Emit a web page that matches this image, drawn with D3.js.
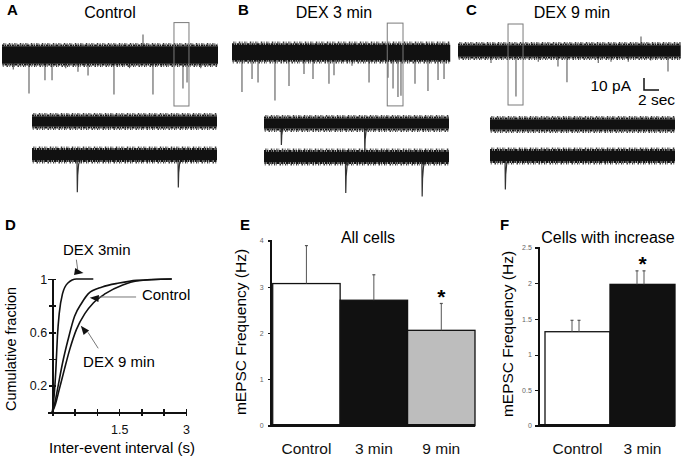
<!DOCTYPE html>
<html lang="en">
<head>
<meta charset="UTF-8">
<title>mEPSC traces and frequency - D3.js</title>
<script src="https://d3js.org/d3.v7.min.js"></script>
<style>
  body { margin: 0; background: #fff; }
  svg { display: block; font-family: Arial, "Liberation Sans", sans-serif; }
  .letter { font-weight: bold; font-size: 15px; }
  .title { font-size: 16px; }
  .axis path, .axis line { stroke: #111; stroke-width: 1.5; shape-rendering: crispEdges; }
  .small-ticks text { font-size: 7px; fill: #666; }
  .small-ticks line { stroke-width: 1; }
</style>
</head>
<body>
<svg width="681" height="460"></svg>
<script>
// ---- traces (time in s, amplitude in pA) ----
const traceTitles = ["Control", "DEX 3 min", "DEX 9 min"];
const overviewDur = [28.8, 29.1, 29.7];
const overviewEvents = [
  [[1.5, -12], [3.6, -32], [5.73, -21], [6.67, -21], [8.5, -11], [10.13, -14], [11.47, -17],
   [14.93, -33], [17.0, -11], [18.8, 17], [20.13, -33], [24.13, -28], [24.67, -23], [26.5, -11]],
  [[1.33, -33], [2.67, -22], [3.47, -25], [5.73, -40], [7.6, -28], [9.6, -18], [10.8, -22],
   [12.93, -26], [13.6, -19], [16.0, -11], [18.27, -25], [20.8, -21], [21.47, -30], [22.13, -37],
   [22.53, -36], [24.4, -26], [26.13, -32], [27.47, -23], [28.27, -22]],
  [[4.4, -10], [7.73, -38], [10.7, -9], [13.33, -13], [14.53, -26], [18.7, -10], [20.4, -9],
   [22.7, -9], [24.4, 12], [25.7, -8], [28.0, -17]]
];
// zoom box on each overview: [t start, t end, top pA, bottom pA]
const overviewBoxes = [[22.93, 24.93, 27, -42.5], [20.7, 22.8, 24.5, -44.5], [6.67, 8.67, 22.5, -45]];
// expanded rows (1 s each)
const zoomEvents = [
  [[], [[0.243, -31], [0.789, -27]]],
  [[[0.092, -18], [0.543, -24]], [[0.44, -30], [0.853, -33]]],
  [[], [[0.081, -28]]]
];

// ---- cumulative distributions (interval s, fraction) ----
const cumDex3 = [[0, 0], [0.04, 0.12], [0.08, 0.32], [0.115, 0.57], [0.155, 0.74], [0.23, 0.89],
  [0.35, 0.97], [0.54, 1.0], [0.92, 1.0]];
const cumControl = [[0, 0], [0.05, 0.06], [0.115, 0.17], [0.23, 0.37], [0.35, 0.54], [0.5, 0.72],
  [0.66, 0.82], [0.81, 0.89], [1.12, 0.94], [1.5, 0.97], [1.89, 0.99], [2.68, 1.0]];
const cumDex9 = [[0, 0], [0.07, 0.06], [0.155, 0.17], [0.27, 0.32], [0.39, 0.47], [0.54, 0.62],
  [0.73, 0.74], [0.92, 0.82], [1.19, 0.89], [1.58, 0.955], [1.89, 0.985], [2.68, 1.0]];
const cumTicksX = [0.5, 1, 1.5, 2, 2.5, 3];
const cumLabelsX = [1.5, 3];
const cumTicksY = [0.2, 0.4, 0.6, 0.8, 1];
const cumLabelsY = [0.2, 0.6, 1];

// ---- frequencies (Hz) ----
const allCats = ["Control", "3 min", "9 min"];
const allMean = [3.07, 2.71, 2.06];
const allSem = [0.82, 0.55, 0.58];
const allTicks = [0, 1, 2, 3, 4];
const incCats = ["Control", "3 min"];
const incMean = [1.32, 1.985];
const incSem = [0.16, 0.19];
const incTicks = [0, 0.5, 1, 1.5, 2, 2.5];

const svg = d3.select("svg");

// panel letters
[["A", 7, 15], ["B", 238, 15], ["C", 466, 15], ["D", 5, 230], ["E", 240, 230], ["F", 500, 230]]
  .forEach(([t, x, y]) => svg.append("text").attr("class", "letter").attr("x", x).attr("y", y).text(t));

// ---------- trace drawing ----------
const pxPerSec = 7.5, pxPerPA = 1.2;
// jagged edge of the noise band: inner dense layer, outer sparse layer
const fringeDash = ["2.2 0.5 1.4 0.7 2.8 0.4 1.1 0.6", "0.8 1.8 1.2 1.1 0.6 2.6 1.5 1.4"];

function traceY(cy) {
  return d3.scaleLinear().domain([-50, 50]).range([cy + 50 * pxPerPA, cy - 50 * pxPerPA]);
}

function drawBand(g, x, y, fringe) {
  const [x0, x1] = x.range();
  const layerH = 1.6;
  const top = y(fringe) + layerH * fringeDash.length;
  const bot = y(-fringe) - layerH * fringeDash.length;
  g.append("rect").attr("x", x0).attr("width", x1 - x0)
    .attr("y", top).attr("height", bot - top).attr("fill", "#111");
  fringeDash.forEach((dash, k) => {
    [top - (k + 0.5) * layerH, bot + (k + 0.5) * layerH].forEach((yy, side) => {
      g.append("line").attr("x1", x0).attr("x2", x1).attr("y1", yy).attr("y2", yy)
        .attr("stroke", k === 0 ? "#161616" : "#3a3a3a")
        .attr("stroke-width", layerH + 0.2)
        .attr("stroke-dasharray", dash)
        .attr("stroke-dashoffset", side * 2.3 + k * 1.3);
    });
  });
}

const eventShape = [[0, 0], [0.002, 1], [0.004, 0.55], [0.009, 0.25], [0.02, 0.08], [0.035, 0]];

traceTitles.forEach((name, i) => {
  const g = svg.append("g");
  const x0 = [2, 232, 458][i];
  const cy = [55, 52.5, 51][i];
  const x = d3.scaleLinear().domain([0, overviewDur[i]]).range([x0, x0 + overviewDur[i] * pxPerSec]);
  const y = traceY(cy);

  g.append("text").attr("class", "title").attr("x", [110, 334, 572][i]).attr("y", 18.3)
    .attr("text-anchor", "middle").text(name);

  // events first, band on top of them
  g.selectAll(".ev").data(overviewEvents[i]).join("line")
    .attr("x1", d => x(d[0])).attr("x2", d => x(d[0]))
    .attr("y1", y(0)).attr("y2", d => y(d[1]))
    .attr("stroke", "#5a5a5a").attr("stroke-width", 1.1);
  drawBand(g, x, y, [10, 9, 7.5][i]);

  const b = overviewBoxes[i];
  g.append("rect").attr("x", x(b[0])).attr("width", x(b[1]) - x(b[0]))
    .attr("y", y(b[2])).attr("height", y(b[3]) - y(b[2]))
    .attr("fill", "none").attr("stroke", "#7a7a7a").attr("stroke-width", 1);

  // expanded rows
  const zx0 = [32, 264, 490][i];
  const rowCy = [[121.5, 155], [123.5, 157], [124.5, 156]][i];
  zoomEvents[i].forEach((evs, r) => {
    const zx = d3.scaleLinear().domain([0, 1]).range([zx0, zx0 + 185]);
    const zy = traceY(rowCy[r]);
    const line = d3.line().x(p => zx(p[0])).y(p => zy(p[1]));
    g.selectAll(null).data(evs).join("path")
      .attr("d", d => line(eventShape.map(s => [d[0] + s[0], d[1] * s[1]])))
      .attr("fill", "none").attr("stroke", "#333").attr("stroke-width", 1.2);
    drawBand(g, zx, zy, 7);
  });

  if (i === 2) {
    // scale bar 10 pA / 2 sec
    const t0 = 24.8, a0 = -32.5;
    const bar = d3.path();
    bar.moveTo(x(t0), y(a0 + 10));
    bar.lineTo(x(t0), y(a0));
    bar.lineTo(x(t0 + 2), y(a0));
    g.append("path").attr("d", bar.toString()).attr("fill", "none")
      .attr("stroke", "#111").attr("stroke-width", 1.5);
    g.append("text").attr("x", x(t0) - 13).attr("y", y(a0) + 0.7).attr("text-anchor", "end")
      .style("font-size", "15.5px").text("10 pA");
    g.append("text").attr("x", x(t0) - 6).attr("y", y(a0) + 15)
      .style("font-size", "15.5px").text("2 sec");
  }
});

// ---------- D: cumulative fraction ----------
const xD = d3.scaleLinear().domain([0, 3]).range([52.3, 186]);
const yD = d3.scaleLinear().domain([0, 1]).range([412.3, 279]);

const gDx = svg.append("g").attr("class", "axis").attr("transform", `translate(0,${yD(0)})`)
  .call(d3.axisBottom(xD).tickValues(cumTicksX).tickSizeOuter(0).tickSize(4).tickPadding(9.3)
    .tickFormat(d => cumLabelsX.includes(d) ? d : ""));
gDx.selectAll(".tick line").attr("y1", -3.5).attr("y2", 3.5);
gDx.selectAll("text").style("font-size", "12.5px").attr("fill", "#111");

const gDy = svg.append("g").attr("class", "axis").attr("transform", `translate(${xD(0)},0)`)
  .call(d3.axisLeft(yD).tickValues(cumTicksY).tickSizeOuter(0).tickSize(4).tickPadding(1.2)
    .tickFormat(d => cumLabelsY.includes(d) ? d : ""));
gDy.selectAll(".tick line").attr("x1", -3.5).attr("x2", 3.5);
gDy.selectAll("text").style("font-size", "12.5px").attr("fill", "#111");

const cumLine = d3.line().x(d => xD(d[0])).y(d => yD(d[1])).curve(d3.curveMonotoneX);
[cumControl, cumDex9, cumDex3].forEach(c => {
  svg.append("path").attr("d", cumLine(c)).attr("fill", "none")
    .attr("stroke", "#111").attr("stroke-width", 1.6);
});

svg.append("text").attr("transform", `translate(15.5,349) rotate(-90)`).attr("text-anchor", "middle")
  .style("font-size", "14.5px").text("Cumulative fraction");
svg.append("text").attr("x", 122).attr("y", 453).attr("text-anchor", "middle")
  .style("font-size", "15px").text("Inter-event interval (s)");

// annotation arrows: text pos, line start, line end, head tip, head angle
const cumNotes = [
  { text: "DEX 3min", tx: 0.24, ty: 1.18, l: [[0.54, 1.145], [0.57, 1.07]], tip: [0.70, 1.045], ang: 10 },
  { text: "Control", tx: 2.01, ty: 0.84, l: [[1.88, 0.865], [1.04, 0.865]], tip: [0.84, 0.86], ang: 185 },
  { text: "DEX 9 min", tx: 0.69, ty: 0.34, l: [[1.03, 0.48], [0.8, 0.6]], tip: [0.64, 0.65], ang: -128 }
];
cumNotes.forEach(n => {
  svg.append("text").attr("x", xD(n.tx)).attr("y", yD(n.ty)).style("font-size", "15px").text(n.text);
  svg.append("line").attr("x1", xD(n.l[0][0])).attr("y1", yD(n.l[0][1]))
    .attr("x2", xD(n.l[1][0])).attr("y2", yD(n.l[1][1]))
    .attr("stroke", "#777").attr("stroke-width", 1);
  const tx = xD(n.tip[0]), ty = yD(n.tip[1]), a = n.ang * Math.PI / 180;
  const len = 9, hw = 3.5;
  const bx = tx - len * Math.cos(a), by = ty - len * Math.sin(a);
  const px = -Math.sin(a) * hw, py = Math.cos(a) * hw;
  svg.append("path").attr("d", `M${tx},${ty}L${bx + px},${by + py}L${bx - px},${by - py}Z`)
    .attr("fill", "#111");
});

// ---------- bar panels ----------
function barPanel(opts) {
  const x = d3.scaleBand().domain(opts.cats).range(opts.xr).padding(0);
  const y = d3.scaleLinear().domain(opts.yd).range([425.7, opts.yTop]);

  svg.append("g").attr("class", "axis small-ticks").attr("transform", `translate(${opts.axisX},0)`)
    .call(d3.axisLeft(y).tickValues(opts.ticks).tickFormat(d => d)
      .tickSizeOuter(0).tickSize(3).tickPadding(opts.pad));

  svg.selectAll(null).data(opts.cats).join("rect")
    .attr("x", d => x(d)).attr("width", x.bandwidth())
    .attr("y", (d, i) => y(opts.mean[i])).attr("height", (d, i) => y(0) - y(opts.mean[i]))
    .attr("fill", (d, i) => opts.fill[i]).attr("stroke", "#111").attr("stroke-width", 1.3);

  opts.cats.forEach((c, i) => {
    opts.errOffsets.forEach(off => {
      const cx = x(c) + x.bandwidth() / 2 + off;
      const top = y(opts.mean[i] + opts.sem[i]);
      svg.append("line").attr("x1", cx).attr("x2", cx).attr("y1", y(opts.mean[i])).attr("y2", top)
        .attr("stroke", "#555").attr("stroke-width", 1);
      svg.append("line").attr("x1", cx - 1.5).attr("x2", cx + 1.5).attr("y1", top).attr("y2", top)
        .attr("stroke", "#555").attr("stroke-width", 1.2);
    });
  });

  const gx = svg.append("g").attr("class", "axis").attr("transform", `translate(0,${y(0)})`)
    .call(d3.axisBottom(x).tickSize(0).tickPadding(17));
  gx.select(".domain").attr("d", `M${opts.axisX},0H${opts.xr[1]}`).style("stroke-width", 2.5);
  gx.selectAll("text").style("font-size", "15.5px").attr("fill", "#111");

  svg.append("text").attr("class", "title").attr("x", opts.titleX).attr("y", 243)
    .attr("text-anchor", "middle").text(opts.title);
  svg.append("text").attr("transform", `translate(${opts.labelX},${opts.labelY}) rotate(-90)`)
    .attr("text-anchor", "middle").style("font-size", "15.5px").text("mEPSC Frequency (Hz)");
  opts.stars.forEach(c => {
    const i = opts.cats.indexOf(c);
    svg.append("text").attr("x", x(c) + x.bandwidth() / 2)
      .attr("y", y(opts.mean[i] + opts.sem[i]) + 11)
      .attr("text-anchor", "middle").style("font-size", "21px").style("font-weight", "bold")
      .attr("dy", "-0.5em").text("*");
  });
}

barPanel({
  cats: allCats, mean: allMean, sem: allSem, ticks: allTicks, yd: [0, 4], yTop: 240.5,
  xr: [272.7, 475], axisX: 270.7, pad: 4, fill: ["#fff", "#111", "#bdbdbd"], errOffsets: [0],
  title: "All cells", titleX: 368, labelX: 246, labelY: 332, stars: ["9 min"]
});
barPanel({
  cats: incCats, mean: incMean, sem: incSem, ticks: incTicks, yd: [0, 2.5], yTop: 247.7,
  xr: [545, 675], axisX: 538.3, pad: 3.5, fill: ["#fff", "#111"], errOffsets: [-5.5, 1.5],
  title: "Cells with increase", titleX: 608, labelX: 512.5, labelY: 334, stars: ["3 min"]
});
</script>
</body>
</html>
